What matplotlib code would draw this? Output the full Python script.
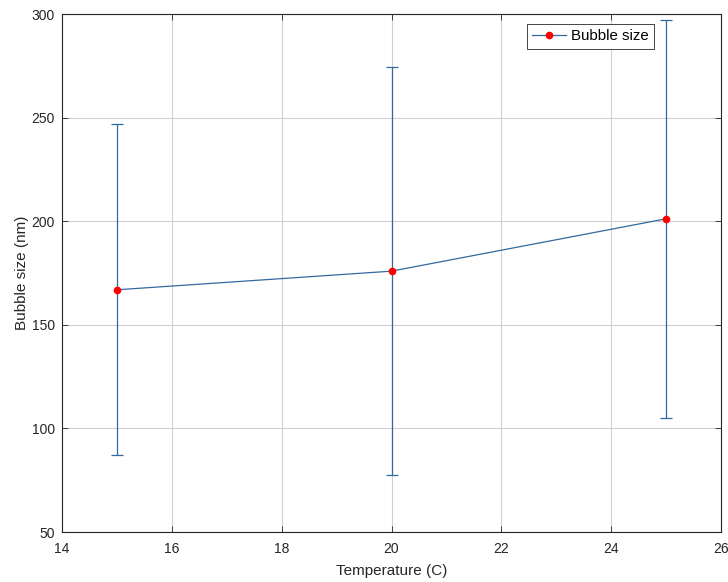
import matplotlib
matplotlib.use("Agg")
import matplotlib.pyplot as plt

temperature = [15, 20, 25]
bubble_size = [167, 176, 201.3]
bubble_err = [80, 98.6, 96.2]

x_ticks = [14, 16, 18, 20, 22, 24, 26]
y_ticks = [50, 100, 150, 200, 250, 300]

plt.rcParams['font.family'] = ['Liberation Sans', 'DejaVu Sans']
plt.rcParams['font.size'] = 10

fig = plt.figure(figsize=(7.28, 5.82), dpi=100)
ax = fig.add_axes([0.0852, 0.0859, 0.9053, 0.8893])

blue = '#3469a0'
ax.errorbar(temperature, bubble_size, yerr=bubble_err, color=blue, linestyle='none',
            elinewidth=0.9, capsize=4, capthick=0.9, zorder=3)
ax.plot(temperature, bubble_size, color=blue, linewidth=0.9, marker='o', markersize=4.5,
        markerfacecolor='red', markeredgecolor='red', label='Bubble size', zorder=4)

ax.set_xlim(14, 26)
ax.set_ylim(50, 300)
ax.set_xticks(x_ticks)
ax.set_yticks(y_ticks)
ax.grid(True, color='#d0d0d0', linewidth=0.8)
ax.set_axisbelow(True)
ax.tick_params(axis='x', direction='in', top=True, length=4, width=0.6, pad=7, colors='#262626')
ax.tick_params(axis='y', direction='in', right=True, length=4, width=0.6, pad=5, colors='#262626')
for s in ax.spines.values():
    s.set_linewidth(0.8)
    s.set_color('#262626')
ax.set_xlabel('Temperature (C)', fontsize=11, labelpad=6, color='#262626')
ax.set_ylabel('Bubble size (nm)', fontsize=11, labelpad=2, color='#262626')

leg = ax.legend(loc='upper right', bbox_to_anchor=(0.905, 0.99), fancybox=False,
                framealpha=1, edgecolor='#262626', borderpad=0.35, handlelength=2.3,
                handletextpad=0.3, fontsize=10.8, borderaxespad=0.3)
leg.get_frame().set_linewidth(0.6)

fig.savefig('out.png', dpi=100)
